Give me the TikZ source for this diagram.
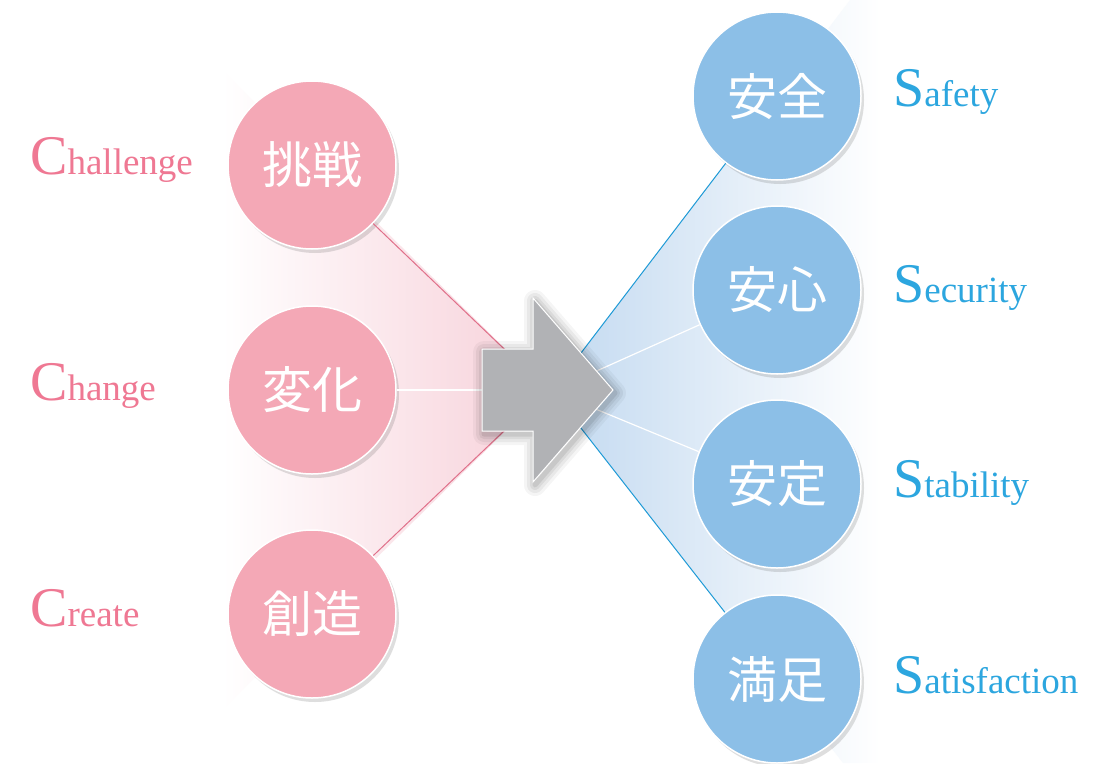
\documentclass[tikz,border=0pt]{standalone}
\usepackage{fontspec}
\setmainfont{Liberation Serif}
\newfontfamily\jpfont{Noto Sans CJK JP}
\usetikzlibrary{shadows}

\definecolor{ballpink}{HTML}{F4A8B6}
\definecolor{ballblue}{HTML}{8CBFE7}
\definecolor{fanpink}{HTML}{F7D0D9}
\definecolor{fanblue}{HTML}{C2D9F0}
\definecolor{linepink}{HTML}{E0708A}
\definecolor{lineblue}{HTML}{1E9AD6}
\definecolor{wordpink}{HTML}{EF7893}
\definecolor{wordblue}{HTML}{2CA6DF}
\definecolor{arrowgray}{HTML}{B1B2B5}

\newcommand{\capletter}[1]{{\fontsize{56}{56}\selectfont #1}}

\tikzset{
  ball/.style={circle, minimum size=168pt, inner sep=0pt, draw=white, line width=1.5pt,
    text=white, font=\jpfont\fontsize{50}{50}\selectfont,
    drop shadow={shadow xshift=3pt, shadow yshift=-4pt, opacity=0.18, fill=black!70}},
  pinkball/.style={ball, fill=ballpink},
  blueball/.style={ball, fill=ballblue},
  cword/.style={anchor=base west, inner sep=0pt, text=wordpink, font=\fontsize{37}{37}\selectfont},
  sword/.style={anchor=base west, inner sep=0pt, text=wordblue, font=\fontsize{37}{37}\selectfont},
  pinkedge/.style={draw=linepink, line width=1pt},
  blueedge/.style={draw=lineblue, line width=1pt},
  whiteedge/.style={draw=white, line width=1.2pt}
}

\begin{document}
\begin{tikzpicture}[x=1pt, y=-1pt]
\useasboundingbox[fill=white] (0,0) rectangle (1100,763);

% fans
\coordinate (pinkapex) at (547,390);
\coordinate (blueapex) at (552,391);
\shade[left color=white, right color=fanpink] (222,70) -- (pinkapex) -- (222,710) -- cycle;
\shade[left color=fanblue, right color=white] (blueapex) -- (850,0) -- (880,0) -- (880,763) -- (843,763) -- cycle;

% left circles
\node[pinkball] (chal) at (312,165) {挑戦};
\node[pinkball] (chan) at (312,390) {変化};
\node[pinkball] (crea) at (312,614) {創造};

% right circles
\node[blueball] (safe) at (777,96) {安全};
\node[blueball] (secu) at (777,290) {安心};
\node[blueball] (stab) at (777,484) {安定};
\node[blueball] (sati) at (777,679) {満足};

% connectors
\draw[pinkedge] (chal) -- (pinkapex);
\draw[pinkedge] (crea) -- (pinkapex);
\draw[whiteedge] (chan) -- (pinkapex);
\draw[blueedge] (blueapex) -- (safe);
\draw[blueedge] (blueapex) -- (sati);
\draw[whiteedge] (blueapex) -- (secu);
\draw[whiteedge] (blueapex) -- (stab);

% arrow
\foreach \w/\o in {22/0.04, 16/0.05, 10/0.06, 5/0.08}
  \draw[line width=\w pt, black, opacity=\o, line join=round, xshift=2pt, yshift=-3pt]
    (482,349) -- (533,349) -- (533,298) -- (613,390) -- (533,482) -- (533,431) -- (482,431) -- cycle;
\filldraw[fill=arrowgray, draw=white, line width=1pt]
  (482,349) -- (533,349) -- (533,298) -- (613,390) -- (533,482) -- (533,431) -- (482,431) -- cycle;

% words
\node[cword] (challenge) at (30,174) {\capletter{C}hallenge};
\node[cword] (change) at (30,400) {\capletter{C}hange};
\node[cword] (create) at (30,626) {\capletter{C}reate};
\node[sword] (safety) at (893,106) {\capletter{S}afety};
\node[sword] (security) at (893,302) {\capletter{S}ecurity};
\node[sword] (stability) at (893,497) {\capletter{S}tability};
\node[sword] (satisfaction) at (893,693) {\capletter{S}atisfaction};
\end{tikzpicture}
\end{document}
